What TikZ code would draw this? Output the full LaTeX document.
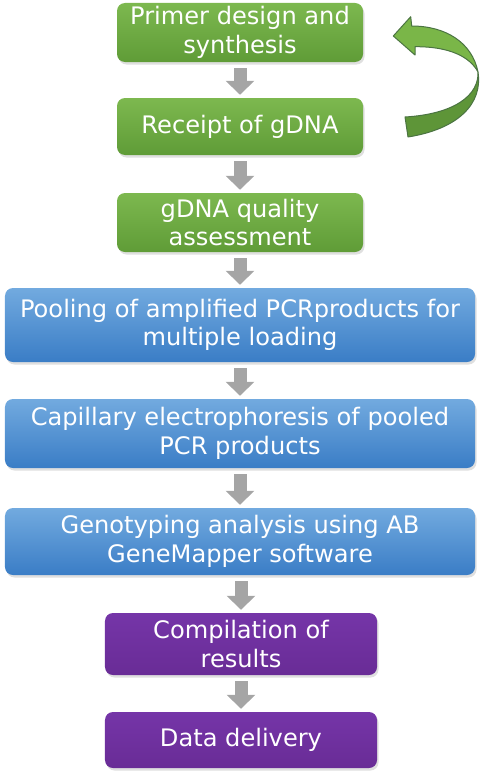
\documentclass[tikz,border=0pt]{standalone}
\usepackage{fontspec}
\setmainfont{DejaVu Sans}
\usetikzlibrary{arrows.meta,shadows}
\definecolor{grtop}{HTML}{7DB84F}
\definecolor{grbot}{HTML}{5F9C37}
\definecolor{bltop}{HTML}{72AADF}
\definecolor{blbot}{HTML}{3A7DC6}
\definecolor{pptop}{HTML}{7535A8}
\definecolor{ppbot}{HTML}{692C96}
\definecolor{flowgray}{HTML}{A5A5A5}
\definecolor{loopline}{HTML}{4B7442}
\definecolor{looplight}{HTML}{7AB648}
\definecolor{loopdark}{HTML}{5E9538}
\tikzset{
  stepnode/.style={rounded corners=8bp, inner sep=0pt, align=center, text=white,
    font=\fontsize{24.2}{28.5}\selectfont,
    drop shadow={shadow xshift=1.5bp, shadow yshift=-2.5bp, opacity=.25}},
  greenbox/.style={stepnode, top color=grtop, bottom color=grbot, minimum width=246bp},
  bluebox/.style={stepnode, top color=bltop, bottom color=blbot, minimum width=470bp},
  purplebox/.style={stepnode, top color=pptop, bottom color=ppbot, minimum width=272bp},
  flow/.style={draw=flowgray, line width=13bp, -{Triangle[width=28bp,length=14bp]},
    shorten <=6bp, shorten >=3bp}
}
\begin{document}
\begin{tikzpicture}[x=1bp,y=-1bp]
\useasboundingbox (0,0) rectangle (482,777);
\node[greenbox, minimum height=59bp] (1) at (240,32.5) {Primer design and\\synthesis};
\node[greenbox, minimum height=57bp] (2) at (240,126.5) {Receipt of gDNA};
\node[greenbox, minimum height=59bp] (3) at (240,222.5) {gDNA quality\\assessment};
\node[bluebox, minimum height=74bp] (4) at (240,325) {Pooling of amplified PCRproducts for\\multiple loading};
\node[bluebox, minimum height=69bp] (5) at (240,433.5) {Capillary electrophoresis of pooled\\PCR products};
\node[bluebox, minimum height=67bp] (6) at (240,541.5) {Genotyping analysis using AB\\GeneMapper software};
\node[purplebox, minimum height=62bp] (7) at (241,644) {Compilation of\\results};
\node[purplebox, minimum height=56bp] (8) at (241,740) {Data delivery};
\path[flow] (1) -- (2);
\path[flow] (2) -- (3);
\path[flow] (3) -- (4);
\path[flow] (4) -- (5);
\path[flow] (5) -- (6);
\path[flow] (6.south -| 7) -- (7);
\path[flow] (7) -- (8);
% loop back arrow
\filldraw[fill=looplight, draw=loopline, line width=1bp, line join=round]
  (393.3,36) -- (410.7,16.7) -- (411.7,26)
  .. controls (445,26) and (472,42) .. (478,72)
  .. controls (470,57) and (450,46.5) .. (415,46.7)
  -- (415,55) -- cycle;
\filldraw[fill=loopdark, draw=loopline, line width=1bp, line join=round]
  (478,72) .. controls (479,95) and (455,114) .. (405,117)
  -- (408,137) .. controls (458,129) and (483,104) .. (478,72) -- cycle;
\end{tikzpicture}
\end{document}
